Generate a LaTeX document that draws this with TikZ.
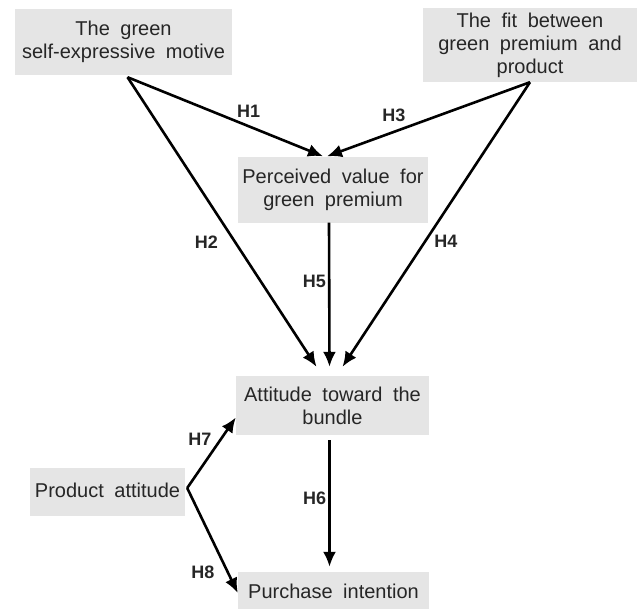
\documentclass[tikz,border=0pt]{standalone}
\usepackage{fontspec}
\setmainfont{Liberation Sans}[WordSpace=1.9]
\usetikzlibrary{arrows.meta}
\definecolor{boxgray}{gray}{0.9}

\begin{document}
\begin{tikzpicture}[x=1pt,y=-1pt]

        \useasboundingbox (0,0) rectangle (637,608);

        \begin{scope}[every node/.style={fill=boxgray, inner sep=0pt, align=center, text=black!85, font=\fontsize{20}{23}\selectfont}]
          \node[minimum width=217pt, minimum height=66pt] (motive)    at (123.5,42)  {The green\\self-expressive motive};
          \node[minimum width=214pt, minimum height=74pt] (fit)       at (530,45)    {The fit between\\green premium and\\product};
          \node[minimum width=190pt, minimum height=66pt] (value)     at (333,189.5) {Perceived value for\\green premium};
          \node[minimum width=193pt, minimum height=59pt] (bundle)    at (332.5,405.5) {Attitude toward the\\bundle};
          \node[minimum width=155pt, minimum height=48pt] (product)   at (107.5,492) {\raisebox{4pt}{Product attitude}};
          \node[minimum width=191pt, minimum height=38pt] (intention) at (333.5,591) {Purchase intention};
        \end{scope}

        \coordinate (m0) at ([xshift=4pt,yshift=-2pt]motive.south);
        \coordinate (f0) at (fit.south);
        \coordinate (v1) at ([xshift=-10pt]value.north);
        \coordinate (v3) at ([xshift=-6pt]value.north);
        \coordinate (v5) at ([xshift=-4pt]value.south);
        \coordinate (b2) at ([xshift=-16pt,yshift=9pt]bundle.north);
        \coordinate (b5) at ([xshift=-3pt,yshift=9pt]bundle.north);
        \coordinate (b4) at ([xshift=10pt,yshift=9pt]bundle.north);
        \coordinate (b6) at ([xshift=-3pt,yshift=-5pt]bundle.south);
        \coordinate (b7) at ([yshift=-12pt]bundle.west);
        \coordinate (i6) at ([xshift=-4pt,yshift=5pt]intention.north);
        \coordinate (p0) at ([xshift=2pt,yshift=4pt]product.east);
        \coordinate (i8) at ([yshift=-2pt]intention.west);

        \begin{scope}[every node/.style={font=\fontsize{18}{18}\selectfont\bfseries, inner sep=0pt, text=black!85}]
          \begin{scope}[every edge/.style={draw, line width=2.6pt, -{Latex[length=15pt,width=13pt]}}]
            \path (m0) edge node[pos=.62, above=7pt] {H1} (v1);
            \path (f0) edge node[pos=.67, above=9pt] {H3} (v3);
            \path (m0) edge node[pos=.57, left=16pt] {H2} (b2);
            \path (f0) edge node[pos=.56, right=8pt] {H4} (b4);
            \path (v5) edge node[pos=.41, left=2pt] {H5} (b5);
            \path (b6) edge node[pos=.46, left=2pt] {H6} (i6);
            \path (p0) edge node[pos=.69, left=8pt] {H7} (b7);
            \path (p0) edge node[pos=.8, left=12pt] {H8} (i8);
          \end{scope}
        \end{scope}

      \end{tikzpicture}
\end{document}
